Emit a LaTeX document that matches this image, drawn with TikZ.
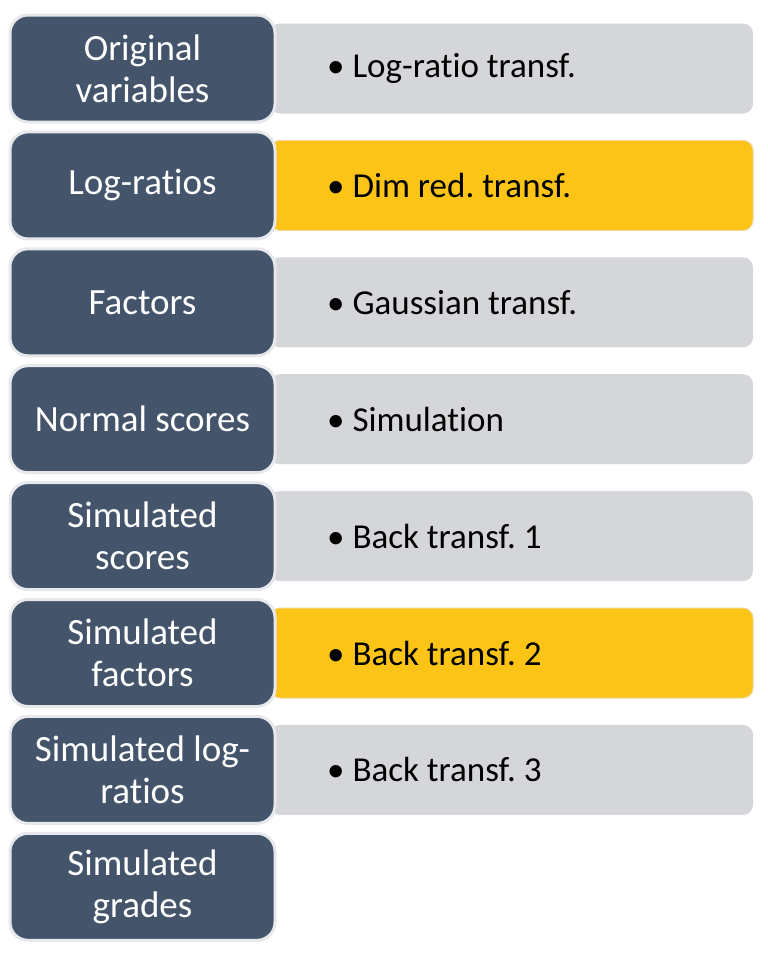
\documentclass[tikz,border=0pt]{standalone}
\usepackage{fontspec}
\setmainfont[Ligatures=NoCommon]{Carlito}
\definecolor{navy}{HTML}{44546A}
\definecolor{lgrey}{HTML}{D5D6D9}
\definecolor{gold}{HTML}{FDC418}
\definecolor{goldrim}{HTML}{EFD79A}
\definecolor{rim}{HTML}{E6E8EC}
\begin{document}
\frenchspacing
\begin{tikzpicture}[x=1pt,y=-1pt,
  leftbox/.style={draw=rim, line width=3pt, fill=navy, rounded corners=18pt,
    minimum width=265pt, minimum height=107pt, text=white, align=center,
    inner sep=0pt, font=\fontsize{37}{42}\selectfont},
  rightbox/.style={fill=lgrey, rounded corners=10pt, minimum width=483pt,
    minimum height=90pt, inner sep=0pt},
  hilite/.style={fill=gold, draw=goldrim, line width=1pt},
  steplabel/.style={anchor=west, inner sep=0pt, text=black,
    font=\fontsize{35}{42}\selectfont}]
\useasboundingbox (0,0) rectangle (768,954);
\fill[white] (0,0) rectangle (768,954);
% right boxes
\node[rightbox] (r1) at (511.5,68.5) {};
\node[rightbox,hilite] (r2) at (511.5,185.4) {};
\node[rightbox] (r3) at (511.5,302.3) {};
\node[rightbox] (r4) at (511.5,419.2) {};
\node[rightbox] (r5) at (511.5,536.1) {};
\node[rightbox,hilite] (r6) at (511.5,653.0) {};
\node[rightbox] (r7) at (511.5,769.9) {};
% labels
\node[steplabel] (t1) at (327,68.5) {• Log-ratio transf.};
\node[steplabel] (t2) at (327,185.4) {• Dim red. transf.};
\node[steplabel] (t3) at (327,302.3) {• Gaussian transf.};
\node[steplabel] (t4) at (327,419.2) {• Simulation};
\node[steplabel] (t5) at (327,536.1) {• Back transf. 1};
\node[steplabel] (t6) at (327,653.0) {• Back transf. 2};
\node[steplabel] (t7) at (327,769.9) {• Back transf. 3};
% left boxes
\node[leftbox] (l1) at (142.5,68.5) {Original\\variables};
\node[leftbox] (l2) at (142.5,185.4) {Log-ratios};
\node[leftbox] (l3) at (142.5,302.3) {Factors};
\node[leftbox] (l4) at (142.5,419.2) {Normal scores};
\node[leftbox] (l5) at (142.5,536.1) {Simulated\\scores};
\node[leftbox] (l6) at (142.5,653.0) {Simulated\\factors};
\node[leftbox] (l7) at (142.5,769.9) {Simulated log-\\ratios};
\node[leftbox] (l8) at (142.5,886.8) {Simulated\\grades};
\end{tikzpicture}
\end{document}
